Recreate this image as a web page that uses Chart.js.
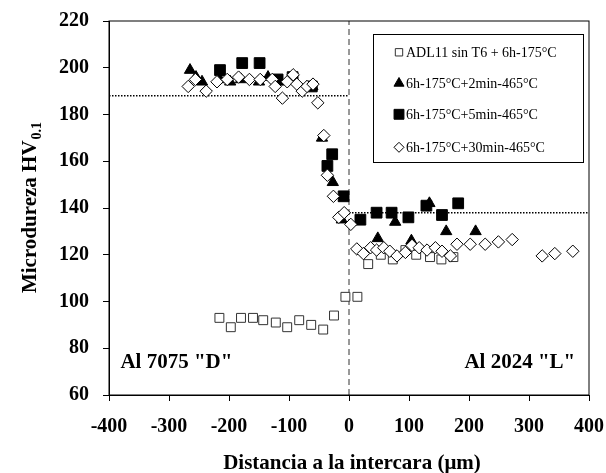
<!DOCTYPE html>
<html>
<head>
<meta charset="utf-8">
<script src="https://cdn.jsdelivr.net/npm/chart.js@4.4.0/dist/chart.umd.min.js"></script>
<style>
  html, body { margin: 0; padding: 0; background: #fff; }
  canvas { display: block; }
</style>
</head>
<body>
<canvas id="chart" width="606" height="473"></canvas>
<script>
// series labels
const seriesNames = [
  'ADL11 sin T6 + 6h-175°C',
  '6h-175°C+2min-465°C',
  '6h-175°C+5min-465°C',
  '6h-175°C+30min-465°C'
];

// ADL11 sin T6 (open squares)
const adlX = [-216, -197, -180, -160, -143, -122, -103, -83, -63, -43, -25, -6, 14, 32, 53, 73, 94, 112, 135, 154, 174];
const adlY = [93, 89, 93, 93, 92, 91, 89, 92, 90, 88, 94, 102, 102, 116, 120, 118, 122, 120, 119, 118, 119];

// 2 min (filled triangles)
const min2X = [-265, -255, -245, -215, -198, -180, -150, -135, -117, -92, -61, -45, -27, -12, 48, 77, 104, 134, 162, 211];
const min2Y = [199, 196, 194, 195, 194, 195, 194, 196, 194, 195, 192, 170, 151, 135, 127, 134, 126, 142, 130, 130];

// 5 min (filled squares)
const min5X = [-215, -178, -149, -119, -94, -62, -36, -28, -9, 19, 46, 71, 99, 129, 155, 182];
const min5Y = [199, 202, 202, 195, 196, 192, 158, 163, 145, 135, 138, 138, 136, 141, 137, 142];

// 30 min (open diamonds)
const min30X = [-268, -256, -238, -220, -203, -184, -166, -148, -128, -123, -111, -103, -93, -87, -78, -70, -60, -52, -42, -36, -26, -17, -8, 3,
  13, 24, 36, 46, 58, 68, 80, 94, 105, 117, 130, 144, 155, 169, 180, 202, 227, 249, 272, 322, 343, 373];
const min30Y = [192, 195, 190, 194, 195, 196, 195, 195, 195, 192, 187, 194, 197, 193, 190, 192, 193, 185, 171, 154, 145, 136, 138, 133,
  122.5, 120.5, 123, 122, 123, 121.5, 119.5, 121, 124, 123, 122, 123, 121.5, 119.5, 124.5, 124.5, 124.5, 125.5, 126.5, 119.5, 120.5, 121.5];

// reference lines
const leftLevel = 188;
const rightLevel = 138;
const interfaceX = 0;

const xTicks = [-400, -300, -200, -100, 0, 100, 200, 300, 400];
const yTicks = [60, 80, 100, 120, 140, 160, 180, 200, 220];

const xTitle = 'Distancia a la intercara (\u03bcm)';
const yTitle = 'Microdureza HV';
const ySub = '0.1';
const leftLabel = 'Al 7075 "D"';
const rightLabel = 'Al 2024 "L"';

const serif = '"Liberation Serif", "Times New Roman", serif';

function pts(xs, ys) {
  return xs.map((x, i) => ({ x: x, y: ys[i] }));
}

const pointSets = [
  { style: 'rect', radius: 6.3, fill: '#fff', stroke: '#333', order: 3 },
  { style: 'triangle', radius: 6.5, fill: '#000', stroke: '#000', order: 2 },
  { style: 'rect', radius: 7.6, fill: '#000', stroke: '#000', order: 1 },
  { style: 'rectRot', radius: 6.2, fill: '#fff', stroke: '#000', order: 0 }
];

const allData = [pts(adlX, adlY), pts(min2X, min2Y), pts(min5X, min5Y), pts(min30X, min30Y)];

const datasets = allData.map((d, i) => ({
  label: seriesNames[i],
  data: d,
  pointStyle: pointSets[i].style,
  pointRadius: pointSets[i].radius,
  pointHoverRadius: pointSets[i].radius,
  pointBackgroundColor: pointSets[i].fill,
  pointBorderColor: pointSets[i].stroke,
  pointBorderWidth: 1,
  showLine: false,
  order: pointSets[i].order
}));

datasets.push({
  type: 'line', label: 'left', data: [{ x: -400, y: leftLevel }, { x: interfaceX, y: leftLevel }],
  borderColor: '#000', borderWidth: 1.5, borderDash: [1.5, 1.5], pointRadius: 0, order: 5
});
datasets.push({
  type: 'line', label: 'right', data: [{ x: interfaceX, y: rightLevel }, { x: 400, y: rightLevel }],
  borderColor: '#000', borderWidth: 1.5, borderDash: [1.5, 1.5], pointRadius: 0, order: 5
});
datasets.push({
  type: 'line', label: 'interface', data: [{ x: interfaceX, y: 60 }, { x: interfaceX, y: 220 }],
  borderColor: '#333', borderWidth: 1, borderDash: [6, 4], pointRadius: 0, order: 5
});

function marker(ctx, style, x, y, r, fill, stroke) {
  ctx.beginPath();
  if (style === 'rect') {
    const s = r * Math.SQRT1_2;
    ctx.rect(x - s, y - s, 2 * s, 2 * s);
  } else if (style === 'triangle') {
    ctx.moveTo(x, y - r);
    ctx.lineTo(x + r * 0.866, y + r * 0.5);
    ctx.lineTo(x - r * 0.866, y + r * 0.5);
    ctx.closePath();
  } else {
    ctx.moveTo(x - r, y); ctx.lineTo(x, y - r); ctx.lineTo(x + r, y); ctx.lineTo(x, y + r);
    ctx.closePath();
  }
  ctx.fillStyle = fill; ctx.fill();
  ctx.strokeStyle = stroke; ctx.lineWidth = 1; ctx.stroke();
}

const extras = {
  id: 'extras',
  afterDraw(chart) {
    const ctx = chart.ctx;
    const a = chart.chartArea;
    const xs = chart.scales.x, ys = chart.scales.y;
    ctx.save();
    // frame
    ctx.strokeStyle = '#000';
    ctx.lineWidth = 1;
    ctx.strokeRect(a.left, a.top, a.right - a.left, a.bottom - a.top);

    ctx.fillStyle = '#000';
    // x title
    ctx.font = 'bold 21px ' + serif;
    ctx.textAlign = 'center';
    ctx.textBaseline = 'alphabetic';
    ctx.fillText(xTitle, 352, 469);

    // y title with subscript
    ctx.save();
    ctx.translate(36, (a.top + a.bottom) / 2);
    ctx.rotate(-Math.PI / 2);
    ctx.font = 'bold 21px ' + serif;
    const w1 = ctx.measureText(yTitle).width;
    ctx.font = 'bold 14px ' + serif;
    const w2 = ctx.measureText(ySub).width;
    ctx.textAlign = 'left';
    ctx.font = 'bold 21px ' + serif;
    ctx.fillText(yTitle, -(w1 + w2) / 2, 0);
    ctx.font = 'bold 14px ' + serif;
    ctx.fillText(ySub, -(w1 + w2) / 2 + w1 + 1, 5);
    ctx.restore();

    // region labels
    ctx.font = 'bold 21px ' + serif;
    ctx.textAlign = 'left';
    ctx.fillText(leftLabel, xs.getPixelForValue(-381), ys.getPixelForValue(71.5));
    ctx.textAlign = 'right';
    ctx.fillText(rightLabel, xs.getPixelForValue(377), ys.getPixelForValue(71.5));

    // legend box
    const bx = a.right - 216, by = a.top + 13, bw = 210, bh = 128;
    ctx.fillStyle = '#fff';
    ctx.fillRect(bx, by, bw, bh);
    ctx.strokeStyle = '#000';
    ctx.strokeRect(bx + 0.5, by + 0.5, bw, bh);
    ctx.font = '14px ' + serif;
    ctx.textAlign = 'left';
    ctx.textBaseline = 'middle';
    const rowY = [52, 83, 114, 147];
    const legendR = [5.2, 5.8, 7, 5];
    seriesNames.forEach((name, i) => {
      const y = rowY[i] - 20.7 + a.top;
      const p = pointSets[i];
      marker(ctx, p.style, bx + 26, y, legendR[i], p.fill, p.stroke);
      ctx.fillStyle = '#000';
      ctx.fillText(name, bx + 33, y + 1);
    });
    ctx.restore();
  }
};

new Chart(document.getElementById('chart'), {
  type: 'scatter',
  data: { datasets: datasets },
  options: {
    responsive: false,
    animation: false,
    layout: { padding: { top: 21, right: 17, left: 0, bottom: 0 } },
    plugins: {
      legend: { display: false },
      tooltip: { enabled: false },
      title: { display: false }
    },
    scales: {
      x: {
        type: 'linear',
        min: -400, max: 400,
        afterBuildTicks: s => { s.ticks = xTicks.map(v => ({ value: v })); },
        afterFit: s => { s.height = 78; s.paddingLeft = 0; s.paddingRight = 0; },
        ticks: { color: '#000', font: { family: serif, size: 20, weight: 'bold' }, padding: 14 },
        grid: { display: true, drawOnChartArea: false, drawTicks: true, tickLength: 6, color: '#000' },
        border: { display: true, color: '#000', width: 1 }
      },
      y: {
        type: 'linear',
        min: 60, max: 220,
        afterBuildTicks: s => { s.ticks = yTicks.map(v => ({ value: v })); },
        afterFit: s => { s.width = 109; s.paddingTop = 0; s.paddingBottom = 0; },
        ticks: { color: '#000', font: { family: serif, size: 20, weight: 'bold' }, padding: 14 },
        grid: { display: true, drawOnChartArea: false, drawTicks: true, tickLength: 6, color: '#000' },
        border: { display: true, color: '#000', width: 1 }
      }
    }
  },
  plugins: [extras]
});
</script>
</body>
</html>
